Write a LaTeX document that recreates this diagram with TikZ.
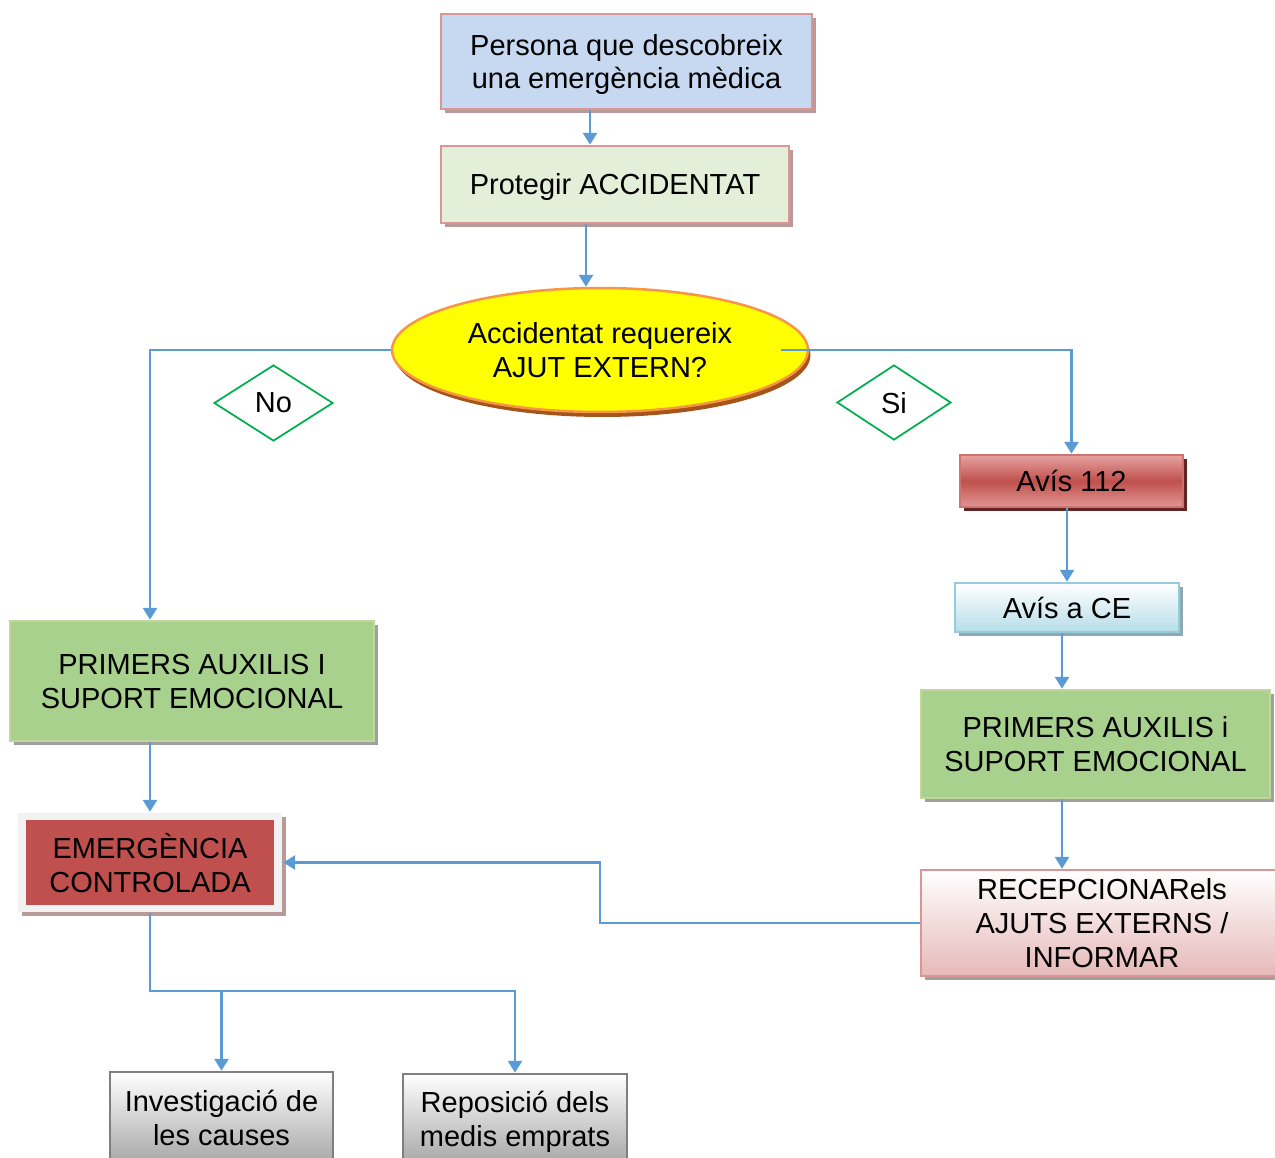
\documentclass[tikz,border=0pt]{standalone}
\usepackage{fontspec}
\setmainfont{Liberation Sans}
\usetikzlibrary{shapes.geometric,shadows,arrows.meta}
\definecolor{cblue}{HTML}{C6D9F0}
\definecolor{cpink}{HTML}{D99694}
\definecolor{cshpink}{HTML}{B89A9A}
\definecolor{clgreen}{HTML}{E4EFDA}
\definecolor{cyel}{HTML}{FFFF00}
\definecolor{corange}{HTML}{F79646}
\definecolor{cbrown}{HTML}{A5541A}
\definecolor{cred}{HTML}{C0504D}
\definecolor{credl}{HTML}{E6A3A1}
\definecolor{cdred}{HTML}{632523}
\definecolor{cltb}{HTML}{B6DDE8}
\definecolor{cltbb}{HTML}{93CDDD}
\definecolor{cshb}{HTML}{8DAAB3}
\definecolor{cgreen}{HTML}{A9D18E}
\definecolor{cgreenb}{HTML}{C2D69B}
\definecolor{cgray}{HTML}{A0A0A0}
\definecolor{crose}{HTML}{E6B9B8}
\definecolor{cgrayd}{HTML}{7F7F7F}
\definecolor{cgraym}{HTML}{A6A6A6}
\definecolor{cdiam}{HTML}{00B050}
\definecolor{cline}{HTML}{5B9BD5}
\definecolor{cfrm}{HTML}{F2F2F2}
\tikzset{
  txt/.style={font=\fontsize{16.5}{19.3}\selectfont, align=center, text=black, inner sep=0pt, text depth=0pt},
  boxs/.style={txt, rectangle, line width=0.05cm},
  shad/.style={drop shadow={shadow xshift=0.08cm, shadow yshift=-0.08cm, fill=#1, opacity=1}},
  arr/.style={draw=cline, line width=0.055cm, -{Triangle[width=0.28cm,length=0.24cm]}},
  diam/.style={txt, diamond, draw=cdiam, line width=0.035cm, fill=white, aspect=1.55},
}
\begin{document}
\begin{tikzpicture}[x=0.02cm,y=-0.02cm]
\useasboundingbox (0,0) rectangle (1275,1158);
\clip (0,0) rectangle (1275,1158);
% nodes
\node[boxs, shad=cshpink, fill=cblue, draw=cpink, minimum width=7.42cm, minimum height=1.9cm] (persona) at (626.5,61.5) {Persona que descobreix\\una emergència mèdica};
\node[boxs, shad=cshpink, fill=clgreen, draw=cpink, minimum width=6.96cm, minimum height=1.54cm] (protegir) at (615,184.5) {Protegir ACCIDENTAT};
\node[txt, ellipse, fill=cyel, draw=corange, line width=0.05cm, minimum width=8.32cm, minimum height=2.48cm,
      drop shadow={shadow xshift=0.05cm, shadow yshift=-0.1cm, fill=cbrown, opacity=1}] (ellipse) at (600,350) {Accidentat requereix\\AJUT EXTERN?};
\node[diam, minimum width=2.38cm, minimum height=1.52cm] (no) at (273.5,403) {No};
\node[diam, minimum width=2.28cm, minimum height=1.5cm] (si) at (894,402.5) {Si};
\node[boxs, shad=cdred, top color=credl, bottom color=credl!85!cred, middle color=cred, draw=cred!80!white, minimum width=4.46cm, minimum height=1.04cm] (avis112) at (1071.5,481) {Avís 112};
\node[boxs, shad=cshb, top color=white, bottom color=cltb, draw=cltbb, minimum width=4.48cm, minimum height=0.98cm] (avisce) at (1067,607.5) {Avís a CE};
\node[boxs, shad=cgray, fill=cgreen, draw=cgreenb, minimum width=6.98cm, minimum height=2.16cm] (primR) at (1095.5,744) {PRIMERS AUXILIS i\\SUPORT EMOCIONAL};
\node[boxs, shad=cgray, top color=white, bottom color=crose, draw=cpink, minimum width=7.24cm, minimum height=2.12cm] (recep) at (1102,923) {RECEPCIONARels\\AJUTS EXTERNS /\\INFORMAR};
\node[boxs, shad=cgray, fill=cgreen, draw=cgreenb, minimum width=7.28cm, minimum height=2.4cm] (primL) at (192,681) {PRIMERS AUXILIS I\\SUPORT EMOCIONAL};
\node[boxs, shad=cshpink, fill=cfrm, draw=none, minimum width=5.28cm, minimum height=1.98cm] (emerg) at (150,862.5) {};
\node[boxs, fill=cred, draw=none, minimum width=4.98cm, minimum height=1.7cm] (emergin) at (150,862.5) {EMERGÈNCIA\\CONTROLADA};
\node[boxs, top color=white, bottom color=cgraym, draw=cgrayd, minimum width=4.46cm, minimum height=1.84cm] (inv) at (221.5,1118) {Investigació de\\les causes};
\node[boxs, top color=white, bottom color=cgraym, draw=cgrayd, minimum width=4.48cm, minimum height=1.8cm] (repo) at (515,1119) {Reposició dels\\medis emprats};
% helper coordinates
\coordinate (a1) at (590,0);
\coordinate (a2) at (586,0);
\coordinate (a3) at (150,0);
\coordinate (a4) at (1067,0);
\coordinate (a5) at (1062,0);
\coordinate (a6) at (600,890);
\coordinate (a7) at (185,991);
\coordinate (a8) at (781,350);
% connectors
\draw[arr] (persona.south -| a1) -- (protegir.north -| a1);
\draw[arr] (protegir.south -| a2) -- (ellipse.north -| a2);
\draw[arr] (ellipse.west) -| (primL.north -| a3);
\draw[arr] (a8) -| (avis112.north);
\draw[arr] (avis112.south -| a4) -- (avisce.north -| a4);
\draw[arr] (avisce.south -| a5) -- (primR.north -| a5);
\draw[arr] (primR.south -| a5) -- (recep.north -| a5);
\draw[arr] (recep.west) -| (a6) |- (emerg.east);
\draw[arr] (primL.south -| a3) -- (emerg.north -| a3);
\draw[arr] (emerg.south -| a3) |- (a7) -| (inv.north);
\draw[arr] (a7) -| (repo.north);
\end{tikzpicture}
\end{document}
